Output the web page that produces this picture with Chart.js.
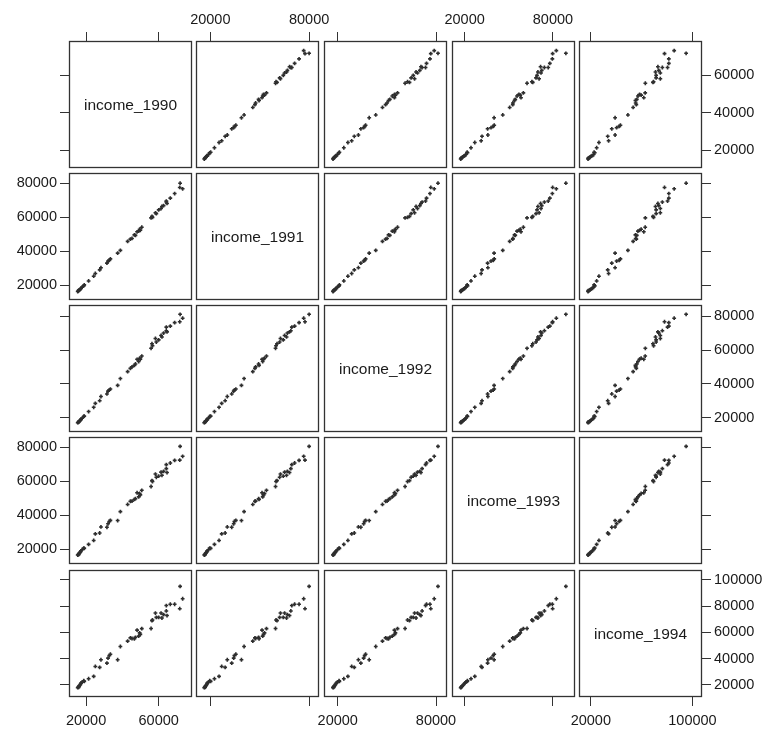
<!DOCTYPE html>
<html>
<head>
<meta charset="utf-8">
<script src="https://cdn.jsdelivr.net/npm/chart.js@4/dist/chart.umd.min.js"></script>
<style>
  html, body { margin: 0; padding: 0; background: #ffffff; }
  #matrix { position: relative; width: 768px; height: 730px; overflow: hidden; }
  #matrix canvas { position: absolute; }
</style>
</head>
<body>
<div id="matrix"></div>
<script>
// Household income by area, 1990-1994
const variables = ['income_1990', 'income_1991', 'income_1992', 'income_1993', 'income_1994'];

const income_1990 = [15400, 15700, 15900, 16200, 16500, 16900, 17200, 17800, 18700, 19000,
  21400, 24200, 25100, 27500, 28200, 31500, 32100, 32800, 33400, 37400,
  38900, 42900, 44400, 45300, 46600, 47200, 48100, 49000, 49500, 49900,
  50700, 55800, 56300, 56600, 58200, 58700, 60000, 61300, 61800, 62700,
  64200, 64600, 64200, 66400, 68800, 71600, 71800, 73200];

const income_1991 = [16300, 16600, 16800, 17100, 17400, 17900, 18100, 18900, 19600, 20200,
  22500, 25300, 26900, 29000, 30300, 33000, 34200, 34600, 35500, 38900,
  40500, 45800, 47100, 47500, 49600, 49300, 51400, 51800, 52900, 52300,
  54100, 59600, 60500, 59900, 62600, 62100, 64300, 65100, 66300, 66800,
  68900, 68100, 69500, 71200, 73900, 77500, 80000, 76700];

const income_1992 = [17100, 17300, 17500, 17900, 18200, 18600, 19200, 19700, 20800, 21000,
  23700, 26200, 28500, 30100, 32600, 34100, 35800, 36400, 37000, 39200,
  43200, 47300, 49200, 50100, 51000, 51800, 54600, 53300, 55200, 54700,
  56500, 61100, 63800, 62600, 66900, 64800, 66100, 68700, 67800, 70100,
  71500, 70800, 73600, 74200, 76300, 76800, 81200, 78900];

const income_1993 = [17300, 17700, 17600, 18300, 18800, 19400, 20100, 20800, 21900, 21700,
  24300, 26900, 31200, 31800, 35800, 35600, 37900, 39400, 40100, 40000,
  45900, 50600, 52700, 52800, 53900, 54400, 58300, 55600, 57800, 56900,
  59900, 62400, 66300, 65700, 70600, 68500, 69200, 71900, 69800, 72400,
  74200, 71600, 76800, 77900, 79600, 79800, 88800, 82300];

const income_1994 = [17800, 18300, 18000, 19000, 19600, 20300, 21300, 22100, 23100, 22600,
  24600, 26400, 34000, 33300, 39100, 36500, 40300, 42300, 43300, 39100,
  49200, 53300, 55800, 55300, 55100, 56200, 61700, 57100, 59600, 58400,
  62800, 62900, 68900, 69400, 74700, 71400, 71400, 74700, 70900, 73500,
  76300, 72800, 80400, 81400, 81400, 78000, 95000, 85600];

// Data limits for each variable (both directions)
const axisMin = [10600, 11300, 11600, 11400, 10700];
const axisMax = [78350, 86000, 86700, 95000, 107500];
// Limits used by the labelled vertical axes of each row
const rowAxisMin = [10600, 11300, 11600, 11300, 10700];
const rowAxisMax = [78350, 86000, 86700, 86000, 107500];

// Tick values: horizontal axes carry fewer ticks than vertical ones
const xTickValues = [
  [20000, 60000],
  [20000, 80000],
  [20000, 80000],
  [20000, 80000],
  [20000, 100000]
];
const yTickValues = [
  [20000, 40000, 60000],
  [20000, 40000, 60000, 80000],
  [20000, 40000, 60000, 80000],
  [20000, 40000, 60000, 80000],
  [20000, 40000, 60000, 80000, 100000]
];

const series = [income_1990, income_1991, income_1992, income_1993, income_1994];

// Panel grid geometry (pixels)
const N = variables.length;
const PANEL_W = 123, PANEL_H = 127;
const colLeft = [69, 196, 324, 452, 579];
const rowTop = [41, 173, 305, 437, 570];
const AX_TOP = 41, AX_BOTTOM = 33, AX_LEFT = 69, AX_RIGHT = 66;
const BLEED = 40; // transparent margin so tick labels may run past a panel's edge

const INK = '#333333';
const TEXT = '#1a1a1a';
const FAMILY = "'Liberation Sans', Arial, Helvetica, sans-serif";
const TICK_FONT = { family: FAMILY, size: 14.5 };
const NAME_FONT = '15.5px ' + FAMILY;

// Frame around every panel, plus the variable name on the diagonal
const panelFrame = {
  id: 'panelFrame',
  afterDraw(chart, args, opts) {
    const { ctx, chartArea: a } = chart;
    ctx.save();
    ctx.strokeStyle = INK;
    ctx.lineWidth = 1.3;
    ctx.strokeRect(a.left + 0.5, a.top + 0.5, a.right - a.left - 1, a.bottom - a.top - 1);
    if (opts.label) {
      ctx.fillStyle = TEXT;
      ctx.font = NAME_FONT;
      ctx.textAlign = 'center';
      ctx.textBaseline = 'middle';
      ctx.fillText(opts.label, (a.left + a.right) / 2, (a.top + a.bottom) / 2 + 1);
    }
    ctx.restore();
  }
};

function makeAxis(position, min, max, shown, labelled, size, tickValues) {
  const horizontal = position === 'top' || position === 'bottom';
  const room = shown ? size : 0;
  return {
    type: 'linear',
    position: position,
    min: min,
    max: max,
    display: shown,
    grid: { display: true, drawOnChartArea: false, drawTicks: true, tickLength: 9, color: INK, lineWidth: 1 },
    border: { display: false },
    ticks: {
      display: labelled,
      autoSkip: false,
      maxRotation: 0,
      minRotation: 0,
      padding: position === 'bottom' ? 6 : 3,
      color: TEXT,
      font: TICK_FONT,
      callback: v => String(v)
    },
    afterBuildTicks: s => { s.ticks = tickValues.map(v => ({ value: v })); },
    afterFit: s => {
      if (horizontal) { s.height = room; } else { s.width = room; }
      s.paddingLeft = 0; s.paddingRight = 0; s.paddingTop = 0; s.paddingBottom = 0;
    }
  };
}

const host = document.getElementById('matrix');

for (let r = 0; r < N; r++) {
  for (let c = 0; c < N; c++) {
    const extraL = c === 0 ? AX_LEFT : 0;
    const extraR = c === N - 1 ? AX_RIGHT : 0;
    const extraT = r === 0 ? AX_TOP : 0;
    const extraB = r === N - 1 ? AX_BOTTOM : 0;

    const canvas = document.createElement('canvas');
    canvas.width = PANEL_W + extraL + extraR + 2 * BLEED;
    canvas.height = PANEL_H + extraT + extraB + 2 * BLEED;
    canvas.style.left = (colLeft[c] - extraL - BLEED) + 'px';
    canvas.style.top = (rowTop[r] - extraT - BLEED) + 'px';
    host.appendChild(canvas);

    const xs = series[c], ys = series[r];
    const points = r === c ? [] : xs.map((v, i) => ({ x: v, y: ys[i] }));

    new Chart(canvas, {
      type: 'scatter',
      data: {
        datasets: [{
          data: points,
          pointStyle: 'cross',
          radius: 1.9,
          borderWidth: 1.6,
          borderColor: '#2e2e2e',
          backgroundColor: '#2e2e2e',
          xAxisID: 'x',
          yAxisID: 'yData'
        }]
      },
      options: {
        responsive: false,
        animation: false,
        events: [],
        layout: { padding: BLEED, autoPadding: false },
        plugins: {
          legend: { display: false },
          tooltip: { enabled: false },
          panelFrame: { label: r === c ? variables[r] : null }
        },
        scales: {
          x: makeAxis('bottom', axisMin[c], axisMax[c], r === N - 1, c % 2 === 0, AX_BOTTOM, xTickValues[c]),
          xTop: makeAxis('top', axisMin[c], axisMax[c], r === 0, c % 2 === 1, AX_TOP, xTickValues[c]),
          yData: makeAxis('left', axisMin[r], axisMax[r], false, false, 0, yTickValues[r]),
          y: makeAxis('left', rowAxisMin[r], rowAxisMax[r], c === 0, r % 2 === 1, AX_LEFT, yTickValues[r]),
          yRight: makeAxis('right', rowAxisMin[r], rowAxisMax[r], c === N - 1, r % 2 === 0, AX_RIGHT, yTickValues[r])
        }
      },
      plugins: [panelFrame]
    });
  }
}
</script>
</body>
</html>
